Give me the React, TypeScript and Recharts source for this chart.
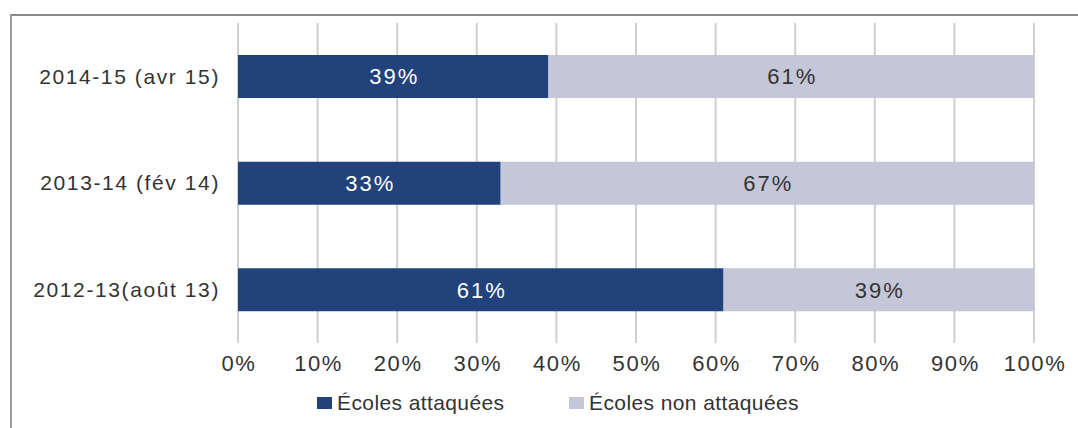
import React from 'react';
import { BarChart, Bar, XAxis, YAxis, CartesianGrid, LabelList, Legend } from 'recharts';

const categories = ['2014-15 (avr 15)', '2013-14 (fév 14)', '2012-13(août 13)'];
const attacked = [39, 33, 61];
const notAttacked = [61, 67, 39];
const xTicks = [0, 10, 20, 30, 40, 50, 60, 70, 80, 90, 100];
const seriesNames = ['Écoles attaquées', 'Écoles non attaquées'];
const seriesColors = ['#22427c', '#c5c6d8'];

const data = categories.map((c, i) => ({ name: c, attacked: attacked[i], notAttacked: notAttacked[i] }));

const FONT = '"Liberation Sans", Arial, Helvetica, sans-serif';

const YTick = (props: any) => {
  const { x, y, payload } = props;
  return (
    <text x={x} y={y} dy="0.355em" textAnchor="end" fill="#333" fontSize={21} fontFamily={FONT} letterSpacing={1.6}>
      {payload.value}
    </text>
  );
};

const XTick = (props: any) => {
  const { x, y, payload } = props;
  return (
    <text x={x + 1} y={y} dy="0.71em" textAnchor="middle" fill="#333" fontSize={22} fontFamily={FONT} letterSpacing={1.6}>
      {payload.value}%
    </text>
  );
};

const makeLabel = (color: string) => (props: any) => {
  const { x, y, width, height, value } = props;
  return (
    <text x={x + width / 2 + 1} y={y + height / 2} dy="0.355em" textAnchor="middle" fill={color} fontSize={22} fontFamily={FONT} letterSpacing={2}>
      {value}%
    </text>
  );
};

const LegendContent = () => {
  const xs = [317, 569];
  return (
    <div style={{ position: 'relative', width: 1078, height: 30 }}>
      {seriesNames.map((n, i) => (
        <div key={n} style={{ position: 'absolute', left: xs[i], top: 0, display: 'flex', alignItems: 'center', height: 30 }}>
          <span style={{ display: 'inline-block', width: 15, height: 12, background: seriesColors[i], marginRight: 5 }} />
          <span style={{ fontFamily: FONT, fontSize: 21, color: '#333', letterSpacing: 0.4, whiteSpace: 'nowrap' }}>{n}</span>
        </div>
      ))}
    </div>
  );
};

export default function App() {
  return (
    <div style={{ position: 'absolute', left: 0, top: 0, width: 1078, height: 428, background: '#fff' }}>
      <div style={{ position: 'absolute', left: 10, top: 14, width: 1068, height: 414, borderTop: '2px solid #8a8a8a', borderLeft: '2px solid #9a9a9a', boxSizing: 'border-box' }} />
      <div style={{ position: 'absolute', left: 0, top: 0 }}>
        <BarChart width={1078} height={428} data={data} layout="vertical" margin={{ top: 23, right: 44, bottom: 43, left: 0 }}>
          <CartesianGrid horizontal={false} vertical={true} stroke="#cfcfcf" strokeWidth={2} />
          <XAxis type="number" domain={[0, 100]} ticks={xTicks} axisLine={false} tickLine={false} tickSize={0} tickMargin={12} height={42} tick={<XTick />} interval={0} />
          <YAxis type="category" dataKey="name" width={238} axisLine={false} tickLine={false} tickSize={0} tickMargin={18} tick={<YTick />} />
          <Legend verticalAlign="middle" align="center" wrapperStyle={{ top: 388, left: 0, width: 1078 }} content={<LegendContent />} />
          <Bar dataKey="attacked" stackId="s" fill={seriesColors[0]} barSize={43} isAnimationActive={false} name={seriesNames[0]}>
            <LabelList dataKey="attacked" content={makeLabel('#ffffff')} />
          </Bar>
          <Bar dataKey="notAttacked" stackId="s" fill={seriesColors[1]} barSize={43} isAnimationActive={false} name={seriesNames[1]}>
            <LabelList dataKey="notAttacked" content={makeLabel('#333333')} />
          </Bar>
        </BarChart>
      </div>
    </div>
  );
}
